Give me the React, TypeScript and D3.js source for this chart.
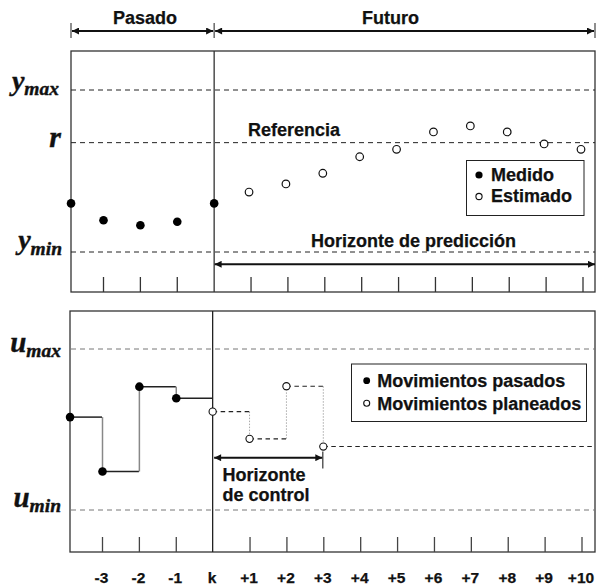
import React from "react";
import * as d3 from "d3";

// ---- data ----
const tickSteps = [-3, -2, -1, 0, 1, 2, 3, 4, 5, 6, 7, 8, 9, 10];
const tickLabels = ["-3", "-2", "-1", "k", "+1", "+2", "+3", "+4", "+5", "+6", "+7", "+8", "+9", "+10"];

const measuredSteps = [-3.88, -3, -2, -1, 0];
const measuredY = [3.0, 1.96, 1.65, 1.87, 3.0];
const estimatedSteps = [1, 2, 3, 4, 5, 6, 7, 8, 9, 10];
const estimatedY = [3.7, 4.2, 4.86, 5.88, 6.34, 7.41, 7.78, 7.41, 6.67, 6.34];
const yLimits = { min: 0, max: 10, ref: 6.75 };

const pastSteps = [-3.88, -3, -2, -1];
const pastU = [5.77, 2.39, 7.66, 6.94];
const plannedSteps = [0, 1, 2, 3];
const plannedU = [6.11, 4.42, 7.69, 3.94];
const uLimits = { min: 0, max: 10 };

// ---- layout ----
const W = 599, H = 586;
const L = 71, R = 595;
const top1 = 51, bot1 = 292;
const top2 = 311, bot2 = 552;
const SANS = "'Liberation Sans', Arial, sans-serif";
const SERIF = "'Liberation Serif', 'Times New Roman', serif";
const FS = 18;

const x = d3.scaleLinear().domain([-3, 10]).range([103.5, 583]);
const y = d3.scaleLinear().domain([yLimits.min, yLimits.max]).range([252, 90]);
const u = d3.scaleLinear().domain([uLimits.min, uLimits.max]).range([510, 349]);

function Arrow({ x1, x2, yy, start = true, end = true, sw = 2 }: any) {
  return (
    <line x1={x1} x2={x2} y1={yy} y2={yy} stroke="#111" strokeWidth={sw}
      markerStart={start ? "url(#ahs)" : undefined} markerEnd={end ? "url(#ahe)" : undefined} />
  );
}

function MathLabel({ main, sub, xr, base, size = 28, subSize = 19.5, dy = 6 }: any) {
  return (
    <text x={xr} y={base} textAnchor="end" fontFamily={SERIF} fontWeight="bold" fontStyle="italic" fontSize={size}
      fill="#111" stroke="#111" strokeWidth={0.4}>
      {main}
      {sub ? <tspan fontSize={subSize} dy={dy}>{sub}</tspan> : null}
    </text>
  );
}

export default function App() {
  const kx = x(0);
  const xRightStep = x.invert(R);
  const bold = { fontFamily: SANS, fontWeight: "bold" as const, fill: "#111", stroke: "#111", strokeWidth: 0.25 };

  const pastH = pastSteps.map((s, i) => ({
    x1: x(s), x2: x(i + 1 < pastSteps.length ? pastSteps[i + 1] : 0), yy: u(pastU[i]),
  }));
  const pastV = pastSteps.slice(1).map((s, i) => ({ xx: x(s), y1: u(pastU[i]), y2: u(pastU[i + 1]) }));
  const planH = plannedSteps.map((s, i) => ({
    x1: x(s), x2: x(i + 1 < plannedSteps.length ? plannedSteps[i + 1] : xRightStep), yy: u(plannedU[i]),
  }));
  const planV = plannedSteps.slice(1).map((s, i) => ({ xx: x(s), y1: u(plannedU[i]), y2: u(plannedU[i + 1]) }));

  return (
    <svg width={W} height={H} style={{ position: "absolute", left: 0, top: 0, background: "#fff" }}>
      <defs>
        <marker id="ahe" viewBox="0 0 10 10" refX="10" refY="5" markerWidth="8" markerHeight="7"
          markerUnits="userSpaceOnUse" orient="auto">
          <path d="M0,0 L10,5 L0,10 Z" fill="#111" />
        </marker>
        <marker id="ahs" viewBox="0 0 10 10" refX="0" refY="5" markerWidth="8" markerHeight="7"
          markerUnits="userSpaceOnUse" orient="auto">
          <path d="M10,0 L0,5 L10,10 Z" fill="#111" />
        </marker>
      </defs>
      <rect width={W} height={H} fill="#fff" />

      {/* header */}
      <text x={113} y={24} fontSize={FS} {...bold}>Pasado</text>
      <text x={362} y={24} fontSize={FS} {...bold}>Futuro</text>
      {[L, kx, R].map((xx, i) => (
        <line key={i} x1={xx} x2={xx} y1={23} y2={38} stroke="#444" strokeWidth={1.2} />
      ))}
      <Arrow x1={L + 1} x2={kx - 1} yy={31} />
      <Arrow x1={kx + 1} x2={R - 1} yy={31} />

      {/* ---------- top panel ---------- */}
      <rect x={L} y={top1} width={R - L} height={bot1 - top1} fill="none" stroke="#333" strokeWidth={1.3} />
      <line x1={kx} x2={kx} y1={top1} y2={bot1} stroke="#333" strokeWidth={1.3} />
      {[yLimits.max, yLimits.ref, yLimits.min].map((v, i) => (
        <line key={i} x1={L} x2={R} y1={y(v)} y2={y(v)} stroke="#222" strokeWidth={1} strokeDasharray="5,4" />
      ))}
      {tickSteps.filter((s) => s !== 0).map((s) => (
        <line key={s} x1={x(s)} x2={x(s)} y1={277} y2={bot1} stroke="#333" strokeWidth={1.3} />
      ))}
      <MathLabel main="y" sub="max" xr={59} base={y(yLimits.max)} dy={5} />
      <MathLabel main="r" xr={61} base={y(yLimits.ref) + 4} size={30} />
      <MathLabel main="y" sub="min" xr={62} base={y(yLimits.min) - 3} dy={6} />
      <text x={248} y={135.5} fontSize={FS} {...bold}>Referencia</text>
      <text x={311} y={246.5} fontSize={FS} {...bold}>Horizonte de predicción</text>
      <Arrow x1={kx + 0.5} x2={R} yy={264.3} />
      {measuredSteps.map((s, i) => (
        <circle key={i} cx={x(s)} cy={y(measuredY[i])} r={4.3} fill="#000" />
      ))}
      {estimatedSteps.map((s, i) => (
        <circle key={i} cx={x(s) - 2} cy={y(estimatedY[i])} r={3.8} fill="#fff" stroke="#111" strokeWidth={1.2} />
      ))}
      {/* legend top */}
      <rect x={466.5} y={160.5} width={117.5} height={55} fill="#fff" stroke="#222" strokeWidth={1} />
      <circle cx={479} cy={175} r={3.6} fill="#000" />
      <text x={491} y={180.5} fontSize={FS} {...bold}>Medido</text>
      <circle cx={479} cy={196.5} r={3.1} fill="#fff" stroke="#111" strokeWidth={1.1} />
      <text x={491} y={202} fontSize={FS} {...bold}>Estimado</text>

      {/* ---------- bottom panel ---------- */}
      <rect x={L - 1} y={top2} width={R - L + 1} height={bot2 - top2} fill="none" stroke="#333" strokeWidth={1.3} />
      <line x1={kx - 1.5} x2={kx - 1.5} y1={top2} y2={bot2} stroke="#222" strokeWidth={1.3} />
      {[uLimits.max, uLimits.min].map((v, i) => (
        <line key={i} x1={L} x2={R} y1={u(v)} y2={u(v)} stroke="#777" strokeWidth={1} strokeDasharray="5,4" />
      ))}
      {tickSteps.filter((s) => s !== 0).map((s) => (
        <line key={s} x1={x(s) - 1} x2={x(s) - 1} y1={537} y2={bot2} stroke="#444" strokeWidth={1.3} />
      ))}
      <MathLabel main="u" sub="max" xr={61} base={u(uLimits.max) + 3} dy={5} size={29} />
      <MathLabel main="u" sub="min" xr={61} base={u(uLimits.min) - 3} dy={5} size={29} />

      {pastV.map((d, i) => (
        <line key={"pv" + i} x1={d.xx - 1} x2={d.xx - 1} y1={d.y1} y2={d.y2} stroke="#888" strokeWidth={1.5} />
      ))}
      {pastH.map((d, i) => (
        <line key={"ph" + i} x1={d.x1 - 1} x2={d.x2 - 1.5} y1={d.yy} y2={d.yy} stroke="#222" strokeWidth={1.5} />
      ))}
      {planV.map((d, i) => (
        <line key={"lv" + i} x1={d.xx - 1.5} x2={d.xx - 1.5} y1={d.y1} y2={d.y2} stroke="#aaa" strokeWidth={1} strokeDasharray="1.5,1.5" />
      ))}
      {planH.map((d, i) => (
        <line key={"lh" + i} x1={d.x1 - 1.5} x2={d.x2 - 1.5} y1={d.yy} y2={d.yy} stroke="#222" strokeWidth={1.1} strokeDasharray="4.5,3.5" />
      ))}
      {pastSteps.map((s, i) => (
        <circle key={"pc" + i} cx={x(s) - 1} cy={u(pastU[i])} r={4.3} fill="#000" />
      ))}
      {plannedSteps.map((s, i) => (
        <circle key={"lc" + i} cx={x(s) - 1.5} cy={u(plannedU[i])} r={3.6} fill="#fff" stroke="#111" strokeWidth={1.1} />
      ))}

      <Arrow x1={kx} x2={x(3) - 2.5} yy={457.7} />
      <line x1={x(3) - 2} x2={x(3) - 2} y1={451.5} y2={468.5} stroke="#333" strokeWidth={1.2} />
      <text x={222.5} y={481} fontSize={FS} {...bold}>Horizonte</text>
      <text x={222.5} y={501} fontSize={FS} {...bold}>de control</text>

      {/* legend bottom */}
      <rect x={351.5} y={364} width={235} height={57.5} fill="#fff" stroke="#222" strokeWidth={1} />
      <circle cx={366.7} cy={380.7} r={3.4} fill="#000" />
      <text x={377.3} y={387} fontSize={FS} {...bold}>Movimientos pasados</text>
      <circle cx={366.7} cy={403.3} r={3} fill="#fff" stroke="#111" strokeWidth={1.1} />
      <text x={377.3} y={410} fontSize={FS} {...bold}>Movimientos planeados</text>

      {/* x tick labels */}
      {tickSteps.map((s, i) => (
        <text key={s} x={x(s) - 2} y={582.5} textAnchor="middle" fontSize={15.5} {...bold}>{tickLabels[i]}</text>
      ))}
    </svg>
  );
}
